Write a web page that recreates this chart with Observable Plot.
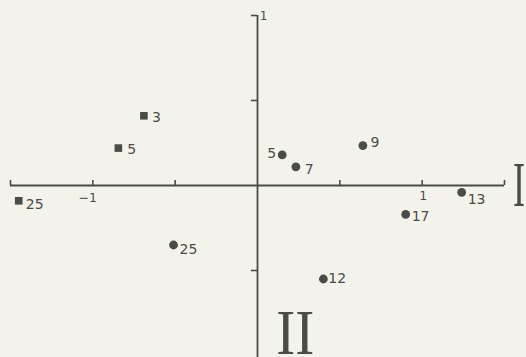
<!DOCTYPE html>
<html>
<head>
<meta charset="utf-8">
<script src="https://cdn.jsdelivr.net/npm/d3@7"></script>
<script src="https://cdn.jsdelivr.net/npm/@observablehq/plot@0.6"></script>
<style>
  html, body { margin: 0; padding: 0; background: #f3f3ec; }
  #chart { width: 526px; height: 357px; overflow: hidden; }
</style>
</head>
<body>
<div id="chart"></div>
<script>
// ---- data ----
const squareLabels = ["3", "5", "25"];
const squareX = [-0.69, -0.845, -1.45];
const squareY = [0.41, 0.22, -0.09];

const circleLabels = ["5", "7", "9", "13", "17", "25", "12"];
const circleX = [0.15, 0.233, 0.64, 1.24, 0.90, -0.51, 0.40];
const circleY = [0.18, 0.11, 0.235, -0.04, -0.17, -0.35, -0.55];

const xTicks = [-1.5, -1, -0.5, 0.5, 1, 1.5];
const yTicks = [1, 0.5, -0.5];
const xTickValues = [-1, 1];
const xTickTexts = ["\u22121", "1"];
const yTickValues = [1];
const yTickTexts = ["1"];

const axisNames = ["I", "II"];
const axisNameX = [1.588, 0.23];
const axisNameY = [0, -0.87];

// ---- style (label offsets in px) ----
const squareLabelOffset = [[8, 1.5], [9, 1], [7, 4]];
const circleLabelOffset = [[-6, -1, "end"], [9, 3], [7.5, -3.5], [6, 7.5], [6, 2], [6, 5], [5, 0]];
const xTickLabelOffset = [[-5, 12], [1, 10]];
const axisNameLength = [12, 38];

const ink = "#4b4b47";
const labelFont = "DejaVu Sans";

const squares = squareLabels.map((l, i) => ({label: l, x: squareX[i], y: squareY[i]}));
const circles = circleLabels.map((l, i) => ({label: l, x: circleX[i], y: circleY[i]}));

const labelMarks = [];
function addLabel(d, off) {
  const [dx, dy, anchor] = off;
  labelMarks.push(Plot.text([d], {x: "x", y: "y", text: "label", dx, dy, textAnchor: anchor || "start",
    lineAnchor: "middle", fill: ink, fontSize: 14, fontFamily: labelFont}));
}
squares.forEach((d, i) => addLabel(d, squareLabelOffset[i]));
circles.forEach((d, i) => addLabel(d, circleLabelOffset[i]));

const tickLabelMarks = xTickValues.map((v, i) => Plot.text([{v, t: xTickTexts[i]}], {
  x: "v", y: 0, text: "t", dx: xTickLabelOffset[i][0], dy: xTickLabelOffset[i][1],
  fill: ink, fontSize: 12.5, fontFamily: labelFont, lineAnchor: "middle"}));
tickLabelMarks.push(Plot.text(yTickValues.map((v, i) => ({v, t: yTickTexts[i]})), {
  x: 0, y: "v", text: "t", dx: 6, dy: 1, fill: ink, fontSize: 12, fontFamily: labelFont, lineAnchor: "middle"}));

const names = axisNames.map((n, i) => ({n, x: axisNameX[i], y: axisNameY[i]}));

const chart = Plot.plot({
  width: 526,
  height: 357,
  marginLeft: 10,
  marginRight: 22,
  marginTop: 15,
  marginBottom: 2,
  x: {domain: [-1.5, 1.5], axis: null},
  y: {domain: [-1, 1], axis: null},
  style: {background: "#f3f3ec", overflow: "visible"},
  marks: [
    // axes lines
    Plot.ruleY([0], {x1: -1.5, x2: 1.5, stroke: ink, strokeWidth: 1.8}),
    Plot.ruleX([0], {y1: -1.02, y2: 1, stroke: ink, strokeWidth: 1.8}),
    // ticks
    Plot.ruleX(xTicks, {x: d => d, y1: 0, y2: 0.03, stroke: ink, strokeWidth: 1.6}),
    Plot.ruleY(yTicks, {y: d => d, x1: -0.037, x2: 0, stroke: ink, strokeWidth: 1.6}),
    ...tickLabelMarks,
    // points
    Plot.dot(squares, {x: "x", y: "y", symbol: "square", r: 4.3, fill: ink, stroke: null}),
    Plot.dot(circles, {x: "x", y: "y", symbol: "circle", r: 4.4, fill: ink, stroke: null}),
    ...labelMarks,
    // axis names
    Plot.text(names, {x: "x", y: "y", text: "n", fill: ink, fontSize: 64,
      fontFamily: "Liberation Serif", lineAnchor: "middle", textAnchor: "middle"})
  ]
});

// condense the roman numerals to the narrow face of the original
d3.select(chart).selectAll("text").each(function () {
  const t = this.textContent;
  const idx = axisNames.indexOf(t);
  if (idx >= 0 && this.getAttribute("font-family") !== labelFont) {
    this.setAttribute("textLength", axisNameLength[idx]);
    this.setAttribute("lengthAdjust", "spacingAndGlyphs");
  }
});

document.getElementById("chart").appendChild(chart);
</script>
</body>
</html>
